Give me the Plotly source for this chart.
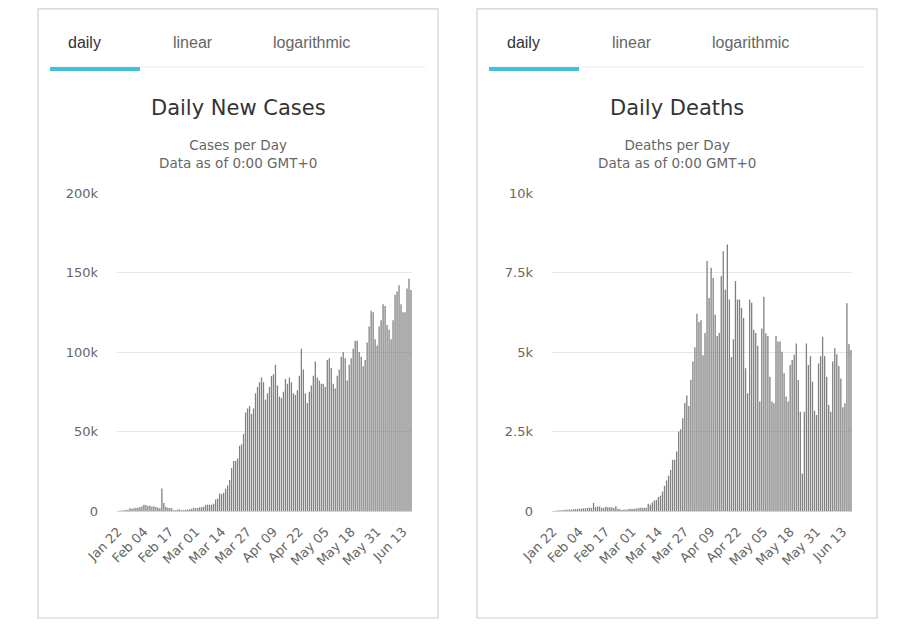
import datetime as dt
import plotly.graph_objects as go

# ---------------- data ----------------
start = dt.date(2020, 1, 22)
n_days = 148
dates = [(start + dt.timedelta(days=i)).strftime("%b %d") for i in range(n_days)]
tick_labels = ["Jan 22", "Feb 04", "Feb 17", "Mar 01", "Mar 14", "Mar 27",
               "Apr 09", "Apr 22", "May 05", "May 18", "May 31", "Jun 13"]

cases_jan = [0, 100, 290, 490, 680, 810, 1750, 1480, 1750, 1990]
cases_feb = [2100, 2590, 3000, 3860, 3730, 3160, 3450, 2660, 3030, 2540, 2030, 1800,
             14100, 5090, 2650, 2100, 1900, 1750, 400, 550, 1000, 1000, 400, 600,
             850, 950, 1100, 1400, 1900]
cases_mar = [1700, 1900, 2300, 2300, 2700, 3900, 3900, 3900, 4000, 4500, 7200, 7900,
             11000, 10500, 11500, 14000, 16000, 19500, 27000, 31500, 31500, 33000,
             41000, 42000, 48500, 62000, 64500, 66000, 61000, 64500, 74000]
cases_apr = [78000, 81000, 84000, 81000, 70000, 74000, 78000, 85000, 86000, 92000,
             79000, 72000, 71000, 75000, 83000, 80000, 84000, 81000, 74000, 73000,
             76000, 85000, 102000, 89000, 74000, 68000, 75000, 79000, 85000, 94000]
cases_may = [84000, 82000, 80000, 80000, 78000, 95000, 96000, 90000, 80000, 77000,
             85000, 89000, 97000, 100000, 96000, 82000, 92000, 96000, 102000, 107000,
             107000, 100000, 97000, 91000, 95000, 106000, 116000, 126000, 125000,
             108000, 104000]
cases_jun = [116000, 120000, 130000, 129000, 117000, 114000, 108000, 120000, 136000,
             138000, 142000, 130000, 125000, 125000, 140000, 146000, 139000]
daily_cases = cases_jan + cases_feb + cases_mar + cases_apr + cases_may + cases_jun

deaths_jan = [0, 8, 16, 14, 26, 26, 38, 43, 46, 45]
deaths_feb = [57, 64, 66, 73, 73, 86, 89, 97, 108, 97, 254, 121, 143, 142, 105, 98,
              136, 114, 118, 109, 97, 150, 71, 52, 29, 44, 37, 58, 67]
deaths_mar1 = [60, 70, 75, 85, 100, 105, 105, 100, 230, 200, 270, 330, 350, 440, 480]
deaths_mid = [610, 790, 960, 1110, 1290, 1610, 1610, 1870, 2500, 2570, 2920, 3400,
              3630, 3300, 4130, 4700, 5150, 6200, 5940, 6000, 4900, 5600, 7860, 6700,
              7650, 7330, 6180, 5500, 5600, 7380, 8170, 6960, 8380, 6650, 4840, 5400,
              7230, 6650, 6650, 6390, 6070, 4490, 3700, 6650, 6550, 5700, 5600, 5200,
              3440]
deaths_late = [5740, 6740, 5590, 5500, 4220, 3440, 3390, 5500, 5330, 5330, 5010, 4330,
               3600, 3440, 4590, 4750, 4910, 5270, 4120, 3120, 1180, 3120, 5270, 4590,
               4870, 4070, 3150, 3020, 4640, 4870, 5480, 4870, 4220, 3330, 3120, 4700,
               5120, 4930, 4560, 4170, 3260, 3390, 6530, 5250, 5060]
daily_deaths = deaths_jan + deaths_feb + deaths_mar1 + deaths_mid + deaths_late

cases_ticks = [0, 50000, 100000, 150000, 200000]
cases_ticktext = ["0", "50k", "100k", "150k", "200k"]
deaths_ticks = [0, 2500, 5000, 7500, 10000]
deaths_ticktext = ["0", "2.5k", "5k", "7.5k", "10k"]

panel_titles = ["Daily New Cases", "Daily Deaths"]
panel_subtitles = ["Cases per Day<br>Data as of 0:00 GMT+0",
                   "Deaths per Day<br>Data as of 0:00 GMT+0"]
tabs = ["daily", "linear", "logarithmic"]

# ---------------- figure ----------------
# page body has an 8px margin; lay out in window pixel coords and convert
OFF = 8
W, H = 902, 616
BAR = "rgba(128,128,128,0.99)"
FONT = "DejaVu Sans"

fig = go.Figure()
fig.add_trace(go.Bar(x=dates, y=daily_cases, marker=dict(color=BAR, line=dict(width=0)),
                     xaxis="x", yaxis="y", showlegend=False))
fig.add_trace(go.Bar(x=dates, y=daily_deaths, marker=dict(color=BAR, line=dict(width=0)),
                     xaxis="x2", yaxis="y2", showlegend=False))

def px(x):
    return (x - OFF) / W

def py(y):
    return 1 - (y - OFF) / H

common_x = dict(type="category", tickmode="array", tickvals=tick_labels, ticktext=tick_labels,
                tickangle=-45, showgrid=False, showline=True, linecolor="#ccd6eb",
                linewidth=1, ticks="", tickfont=dict(family=FONT, size=13, color="#666666"),
                ticklabelstandoff=7,
                range=[-0.5, n_days - 0.5], fixedrange=True, automargin=False)
common_y = dict(showgrid=True, gridcolor="#e6e6e6", gridwidth=1, zeroline=False,
                ticks="", tickfont=dict(family=FONT, size=13, color="#666666"),
                ticklabelstandoff=18, fixedrange=True, automargin=False)

fig.update_layout(
    width=W, height=H, margin=dict(l=0, r=0, t=0, b=0, pad=0, autoexpand=False),
    paper_bgcolor="white", plot_bgcolor="white", bargap=0.35,
    xaxis=dict(domain=[px(117), px(412)], anchor="y", **common_x),
    yaxis=dict(domain=[py(511), py(193)], anchor="x", range=[0, 200000],
               tickvals=cases_ticks, ticktext=cases_ticktext, **common_y),
    xaxis2=dict(domain=[px(552), px(852)], anchor="y2", **common_x),
    yaxis2=dict(domain=[py(511), py(193)], anchor="x2", range=[0, 10000],
                tickvals=deaths_ticks, ticktext=deaths_ticktext, **common_y),
)

cards = [(38, 438), (477, 877)]
shapes = []
annotations = []
for i, (cx0, cx1) in enumerate(cards):
    shapes.append(dict(type="rect", xref="paper", yref="paper",
                       x0=px(cx0), x1=px(cx1), y0=py(618), y1=py(8.8),
                       line=dict(color="#cfcfcf", width=1.2), fillcolor="rgba(0,0,0,0)",
                       layer="below"))
    # tab separator line
    shapes.append(dict(type="line", xref="paper", yref="paper",
                       x0=px(cx0 + 12), x1=px(cx1 - 12), y0=py(67), y1=py(67),
                       line=dict(color="#eeeeee", width=1)))
    # active tab underline
    shapes.append(dict(type="rect", xref="paper", yref="paper",
                       x0=px(cx0 + 12), x1=px(cx0 + 102), y0=py(71), y1=py(67),
                       line=dict(width=0), fillcolor="#3fc1df"))
    tab_centers = [cx0 + 46, cx0 + 155, cx0 + 273]
    for t, tc in zip(tabs, tab_centers):
        annotations.append(dict(text=t, x=px(tc), y=py(43), xref="paper", yref="paper",
                                showarrow=False, xanchor="center", yanchor="middle",
                                font=dict(family="Liberation Sans", size=16,
                                          color="#333333" if t == "daily" else "#666666")))
    mid = (cx0 + cx1) / 2
    annotations.append(dict(text=panel_titles[i], x=px(mid), y=py(108), xref="paper",
                            yref="paper", showarrow=False, xanchor="center", yanchor="middle",
                            font=dict(family=FONT, size=21, color="#333333")))
    annotations.append(dict(text=panel_subtitles[i], x=px(mid), y=py(154), xref="paper",
                            yref="paper", showarrow=False, xanchor="center", yanchor="middle",
                            font=dict(family=FONT, size=13.5, color="#666666")))

fig.update_layout(shapes=shapes, annotations=annotations)
fig.write_html("out.html", config={"responsive": False, "displayModeBar": False})
